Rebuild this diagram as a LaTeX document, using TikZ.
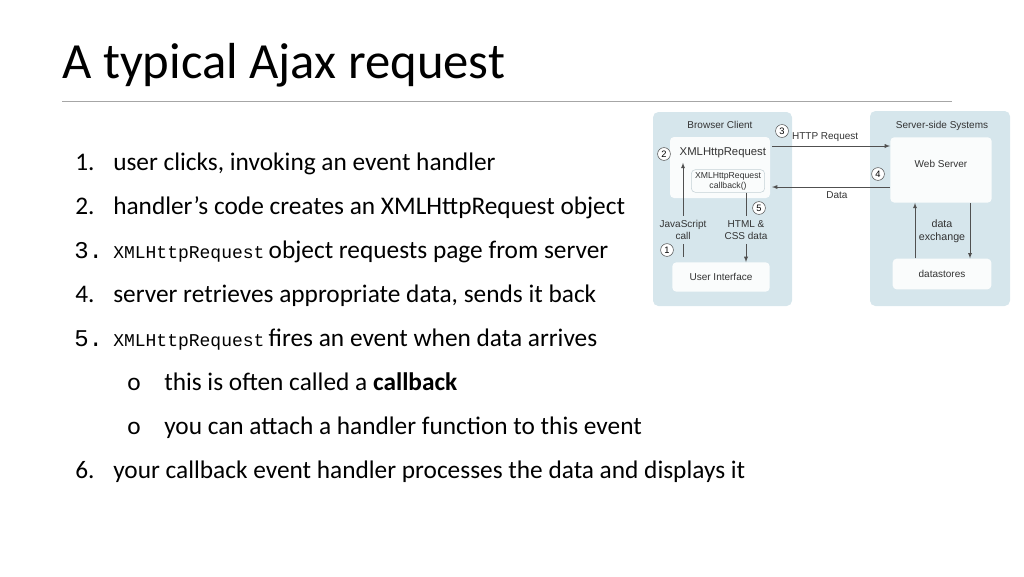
\documentclass[tikz,border=0pt]{standalone}
\usepackage{fontspec}
\setmainfont{Carlito}
\newfontfamily\diagfont{Liberation Sans}
\newfontfamily\codefont{Liberation Mono}
\usetikzlibrary{positioning}
\definecolor{panelblue}{RGB}{214,230,236}
\definecolor{boxwhite}{RGB}{250,252,252}
\definecolor{linegray}{RGB}{80,80,80}
\tikzset{
  >=latex,
  panel/.style={fill=panelblue,rounded corners=4pt},
  wbox/.style={fill=boxwhite,rounded corners=3pt},
  num/.style={circle,draw=linegray,fill=white,inner sep=1.2pt,font=\diagfont\fontsize{7}{8}\selectfont},
  dlabel/.style={font=\diagfont\fontsize{7.5}{8.5}\selectfont,text=black!80,align=center},
  flow/.style={->,draw=linegray,thin},
  item/.style={anchor=base west,inner sep=0pt,font=\fontsize{19}{22}\selectfont},
  inum/.style={anchor=base west,inner sep=0pt,font=\fontsize{19}{22}\selectfont},
}
\newcommand{\xhr}{{\codefont\fontsize{13.5}{15}\selectfont XMLHttpRequest}}
\begin{document}
\begin{tikzpicture}[x=0.75pt,y=-0.75pt]
  \useasboundingbox (0,0) rectangle (1024,576);
  % title
  \node[anchor=base west,inner sep=0pt,font=\fontsize{38}{44}\selectfont] (title) at (62,78) {A typical Ajax request};
  \draw[gray!70] (62,101) -- (952,101);
  % list
  \node[inum] (n1) at (75,170) {1.};
  \node[item] (t1) at (113,170) {user clicks, invoking an event handler};
  \node[inum] (n2) at (75,214) {2.};
  \node[item] (t2) at (113,214) {handler’s code creates an XMLHttpRequest object};
  \node[inum,font=\codefont\fontsize{18}{20}\selectfont] (n3) at (74,258) {3.};
  \node[item] (t3) at (113,258) {\xhr\,object requests page from server};
  \node[inum] (n4) at (75,302) {4.};
  \node[item] (t4) at (113,302) {server retrieves appropriate data, sends it back};
  \node[inum,font=\codefont\fontsize{18}{20}\selectfont] (n5) at (74,346) {5.};
  \node[item] (t5) at (113,346) {\xhr\,fires an event when data arrives};
  \node[inum] (b1) at (127,390) {o};
  \node[item] (s1) at (164,390) {this is often called a \textbf{callback}};
  \node[inum] (b2) at (127,434) {o};
  \node[item] (s2) at (164,434) {you can attach a handler function to this event};
  \node[inum] (n6) at (75,478) {6.};
  \node[item] (t6) at (113,478) {your callback event handler processes the data and displays it};
  % diagram panels
  \fill[panel] (653,112) rectangle (792,306);
  \fill[panel] (870,111) rectangle (1010,306);
  \node[dlabel] (client) at (720,125) {Browser Client};
  \node[dlabel] (server) at (942,126) {Server-side Systems};
  \fill[wbox] (670,137) rectangle (770,198);
  \node[dlabel,anchor=west,font=\diagfont\fontsize{8.5}{9}\selectfont] (xhr) at (675,153) {XMLHttpRequest};
  \node[dlabel,draw=panelblue!80!gray,rounded corners=3pt,minimum width=55pt,minimum height=17pt,inner sep=1pt,font=\diagfont\fontsize{6.5}{7.5}\selectfont] (cb) at (728,181) {XMLHttpRequest\\callback()};
  \node[wbox,dlabel,minimum width=73pt,minimum height=22pt] (ui) at (721,277) {User Interface};
  \node[wbox,dlabel,minimum width=76pt,minimum height=49pt,anchor=north] (web) at (941,137) {};
  \node[dlabel] (weblbl) at (941,164) {Web Server};
  \node[wbox,dlabel,minimum width=74pt,minimum height=23pt] (store) at (942,274) {datastores};
  % connectors
  \coordinate (reqstart) at (772,146);
  \coordinate (datend) at (772,187);
  \draw[flow] (reqstart) -- (reqstart -| web.west) node[dlabel,above,pos=0.45] (http) {HTTP Request};
  \draw[flow] (datend -| web.west) -- (datend) node[dlabel,below,pos=0.45] (data) {Data};
  \node[dlabel] (jscall) at (683,230) {JavaScript\\call};
  \draw[linegray,thin] (ui.north -| jscall) ++(0,-5) coordinate (jsbot) -- (jsbot |- jscall.south);
  \draw[flow] (jscall.north) -- (jscall.north |- xhr.south);
  \node[dlabel] (css) at (746,230) {HTML \&\\CSS data};
  \draw[linegray,thin] (cb.south -| css) -- (css.north);
  \draw[flow] (css.south) -- (css.south |- ui.north);
  \node[dlabel,font=\diagfont\fontsize{8}{9.5}\selectfont] (exch) at (942,231) {data\\exchange};
  \draw[flow] (store.north -| 915,0) -- (web.south -| 915,0);
  \draw[flow] (web.south -| 970,0) -- (store.north -| 970,0);
  % step numbers
  \node[num] (c1) at (667,250) {1};
  \node[num] (c2) at (664,154) {2};
  \node[num] (c3) at (782,131) {3};
  \node[num] (c4) at (878,174) {4};
  \node[num] (c5) at (759,208) {5};
\end{tikzpicture}
\end{document}
